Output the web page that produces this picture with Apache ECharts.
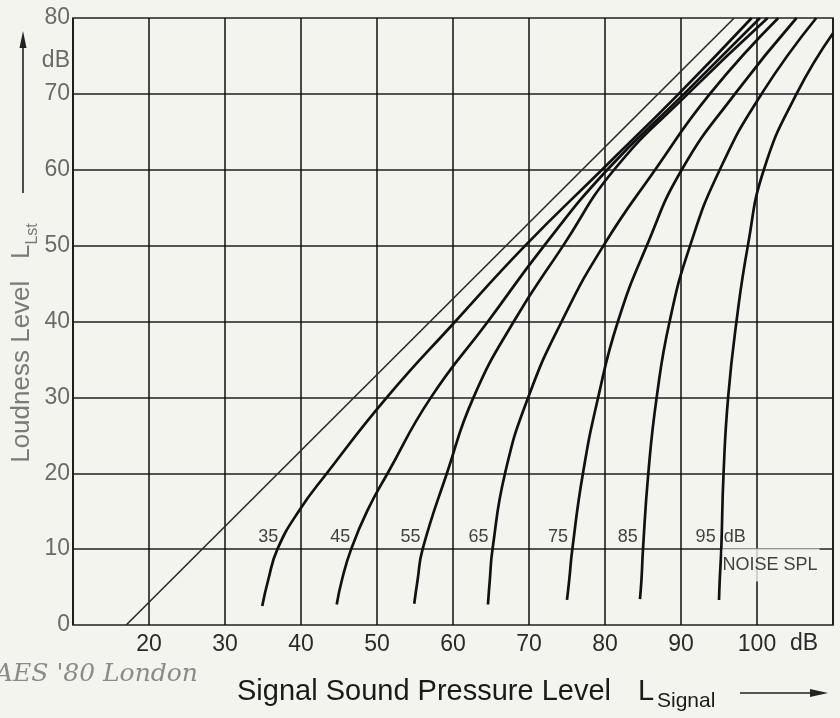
<!DOCTYPE html>
<html><head><meta charset="utf-8">
<script src="https://cdn.jsdelivr.net/npm/echarts@6/dist/echarts.min.js"></script>
<style>html,body{margin:0;padding:0;background:#f3f4ee;}#c{width:840px;height:718px;}</style>
</head><body><div id="c"></div>
<script>
// ---- data ----
const xTicks = [20, 30, 40, 50, 60, 70, 80, 90, 100];
const yTicks = [0, 10, 20, 30, 40, 50, 60, 70, 80];
const noiseLabels = ['35', '45', '55', '65', '75', '85', '95'];
// no masking noise: straight line  [signal SPL, loudness level]
const noNoise = [[17, 0], [97, 80]];
const noise35 = [[34.9,2.5],[35.7,6],[36.9,10],[39.7,15],[43.4,20],[51.3,30],[60.3,40],[69.5,50],[79.6,60],[89.7,70],[99.3,80]];
const noise45 = [[44.7,2.7],[45.4,6],[46.6,10],[48.7,15],[51.4,20],[57.1,30],[64.6,40],[72.0,50],[80.3,60],[90.4,70],[100.4,80]];
const noise55 = [[54.9,2.8],[55.35,6],[56.0,10],[59.2,20],[62.7,30],[68.0,40],[74.5,50],[81.2,60],[90.9,70],[101.4,80]];
const noise65 = [[64.6,2.7],[64.85,6],[65.2,10],[66.85,20],[69.9,30],[74.3,40],[79.8,50],[86.6,60],[93.8,70],[102.8,80]];
const noise75 = [[75.0,3.3],[75.3,6],[75.7,10],[77.1,20],[79.1,30],[81.7,40],[85.5,50],[90.1,60],[97.1,70],[105.2,80]];
const noise85 = [[84.6,3.4],[84.8,6],[85.0,10],[85.7,20],[86.8,30],[88.5,40],[91.2,50],[95.1,60],[100.6,70],[107.8,80]];
const noise95 = [[95.0,3.3],[95.1,6],[95.3,10],[95.6,20],[96.2,30],[97.3,40],[98.8,50],[100.9,60],[105.2,70],[110,78]];
const curves = [noise35, noise45, noise55, noise65, noise75, noise85, noise95];

const FONT = 'Liberation Sans';
const BG = '#f3f4ee';
function sAt(curve, L) {
  for (let i = 0; i < curve.length - 1; i++) {
    const a = curve[i], b = curve[i + 1];
    if (L >= a[1] && L <= b[1]) return a[0] + (b[0] - a[0]) * (L - a[1]) / (b[1] - a[1]);
  }
  return curve[0][0];
}
const LABEL_L = 11.6, NOISE_L = 7.9;
const leftLabels = curves.map((c, i) => ({
  value: [sAt(c, LABEL_L), LABEL_L],
  label: { formatter: noiseLabels[i] }
}));

const series = [];
series.push({
  type: 'line', data: noNoise, showSymbol: false, silent: true,
  lineStyle: { color: '#2a2a2a', width: 1.6 }, z: 3
});
curves.forEach(c => series.push({
  type: 'line', data: c, showSymbol: false, smooth: 0.5, silent: true,
  lineStyle: { color: '#111', width: 2.7 }, z: 3
}));
series.push({
  type: 'scatter', data: leftLabels, symbolSize: 0, silent: true, z: 5,
  label: { show: true, position: 'left', distance: 6, color: '#111', fontSize: 18, fontFamily: FONT }
});
series.push({
  type: 'scatter', symbolSize: 0, silent: true, z: 5,
  data: [
    { value: [sAt(noise95, LABEL_L), LABEL_L], label: { formatter: 'dB' } },
    { value: [sAt(noise95, NOISE_L), NOISE_L], label: { formatter: 'NOISE SPL',
      backgroundColor: BG, padding: [5, 2, 8, 0], lineHeight: 20 } }
  ],
  label: { show: true, position: 'right', distance: 2, color: '#111', fontSize: 18, fontFamily: FONT }
});

const chart = echarts.init(document.getElementById('c'), null, { renderer: 'canvas' });
chart.setOption({
  animation: false,
  backgroundColor: BG,
  grid: { left: 73, right: 7, top: 18, bottom: 93, show: true, borderColor: '#111', borderWidth: 1.5 },
  xAxis: {
    type: 'value', min: 10, max: 110, interval: 10,
    axisLine: { show: false }, axisTick: { show: false },
    splitLine: { show: true, lineStyle: { color: '#111', width: 1.5 } },
    axisLabel: {
      margin: 8, fontSize: 23, color: '#2a2a2a', fontFamily: FONT,
      formatter: v => xTicks.includes(v) ? String(v) : ''
    }
  },
  yAxis: {
    type: 'value', min: 0, max: 80, interval: 10,
    axisLine: { show: false }, axisTick: { show: false },
    splitLine: { show: true, lineStyle: { color: '#555', width: 2 } },
    axisLabel: {
      margin: 3, fontSize: 23, color: '#6a6a6a', fontFamily: FONT,
      formatter: v => yTicks.includes(v) ? String(v) : ''
    }
  },
  graphic: [
    { type: 'text', x: 70, y: 61, style: { text: 'dB', font: '23px ' + FONT, fill: '#6a6a6a', align: 'right', verticalAlign: 'middle' } },
    { type: 'text', x: 804, y: 644, style: { text: 'dB', font: '23px ' + FONT, fill: '#2a2a2a', align: 'center', verticalAlign: 'middle' } },
    // y title
    { type: 'text', x: 22, y: 343, rotation: Math.PI / 2,
      style: { text: '{a|Loudness Level   L}{b|Lst}', align: 'center', verticalAlign: 'middle',
        rich: { a: { fontSize: 26, fontFamily: FONT, fill: '#7a7a7a', lineHeight: 38, verticalAlign: 'middle' },
                b: { fontSize: 16, fontFamily: FONT, fill: '#7a7a7a', lineHeight: 38, verticalAlign: 'bottom' } } } },
    { type: 'line', shape: { x1: 23, y1: 193, x2: 23, y2: 44 }, style: { stroke: '#222', lineWidth: 1.6 } },
    { type: 'polygon', shape: { points: [[23, 31], [19.5, 48], [26.5, 48]] }, style: { fill: '#222' } },
    // x title
    { type: 'text', x: 237, y: 692, style: { text: 'Signal Sound Pressure Level', font: '29px ' + FONT, fill: '#1a1a1a', align: 'left', verticalAlign: 'middle' } },
    { type: 'text', x: 638, y: 692, style: { text: 'L', font: '29px ' + FONT, fill: '#1a1a1a', align: 'left', verticalAlign: 'middle' } },
    { type: 'text', x: 657, y: 701, style: { text: 'Signal', font: '21px ' + FONT, fill: '#1a1a1a', align: 'left', verticalAlign: 'middle' } },
    { type: 'line', shape: { x1: 740, y1: 693, x2: 812, y2: 693 }, style: { stroke: '#222', lineWidth: 1.6 } },
    { type: 'polygon', shape: { points: [[828, 693], [810, 689], [810, 697]] }, style: { fill: '#222' } },
    // handwritten note
    { type: 'text', x: -5, y: 674, style: { text: "AES '80 London", font: 'italic 25px "DejaVu Serif"', fill: '#8a8a8a', align: 'left', verticalAlign: 'middle' } }
  ],
  series: series
});
</script></body></html>
